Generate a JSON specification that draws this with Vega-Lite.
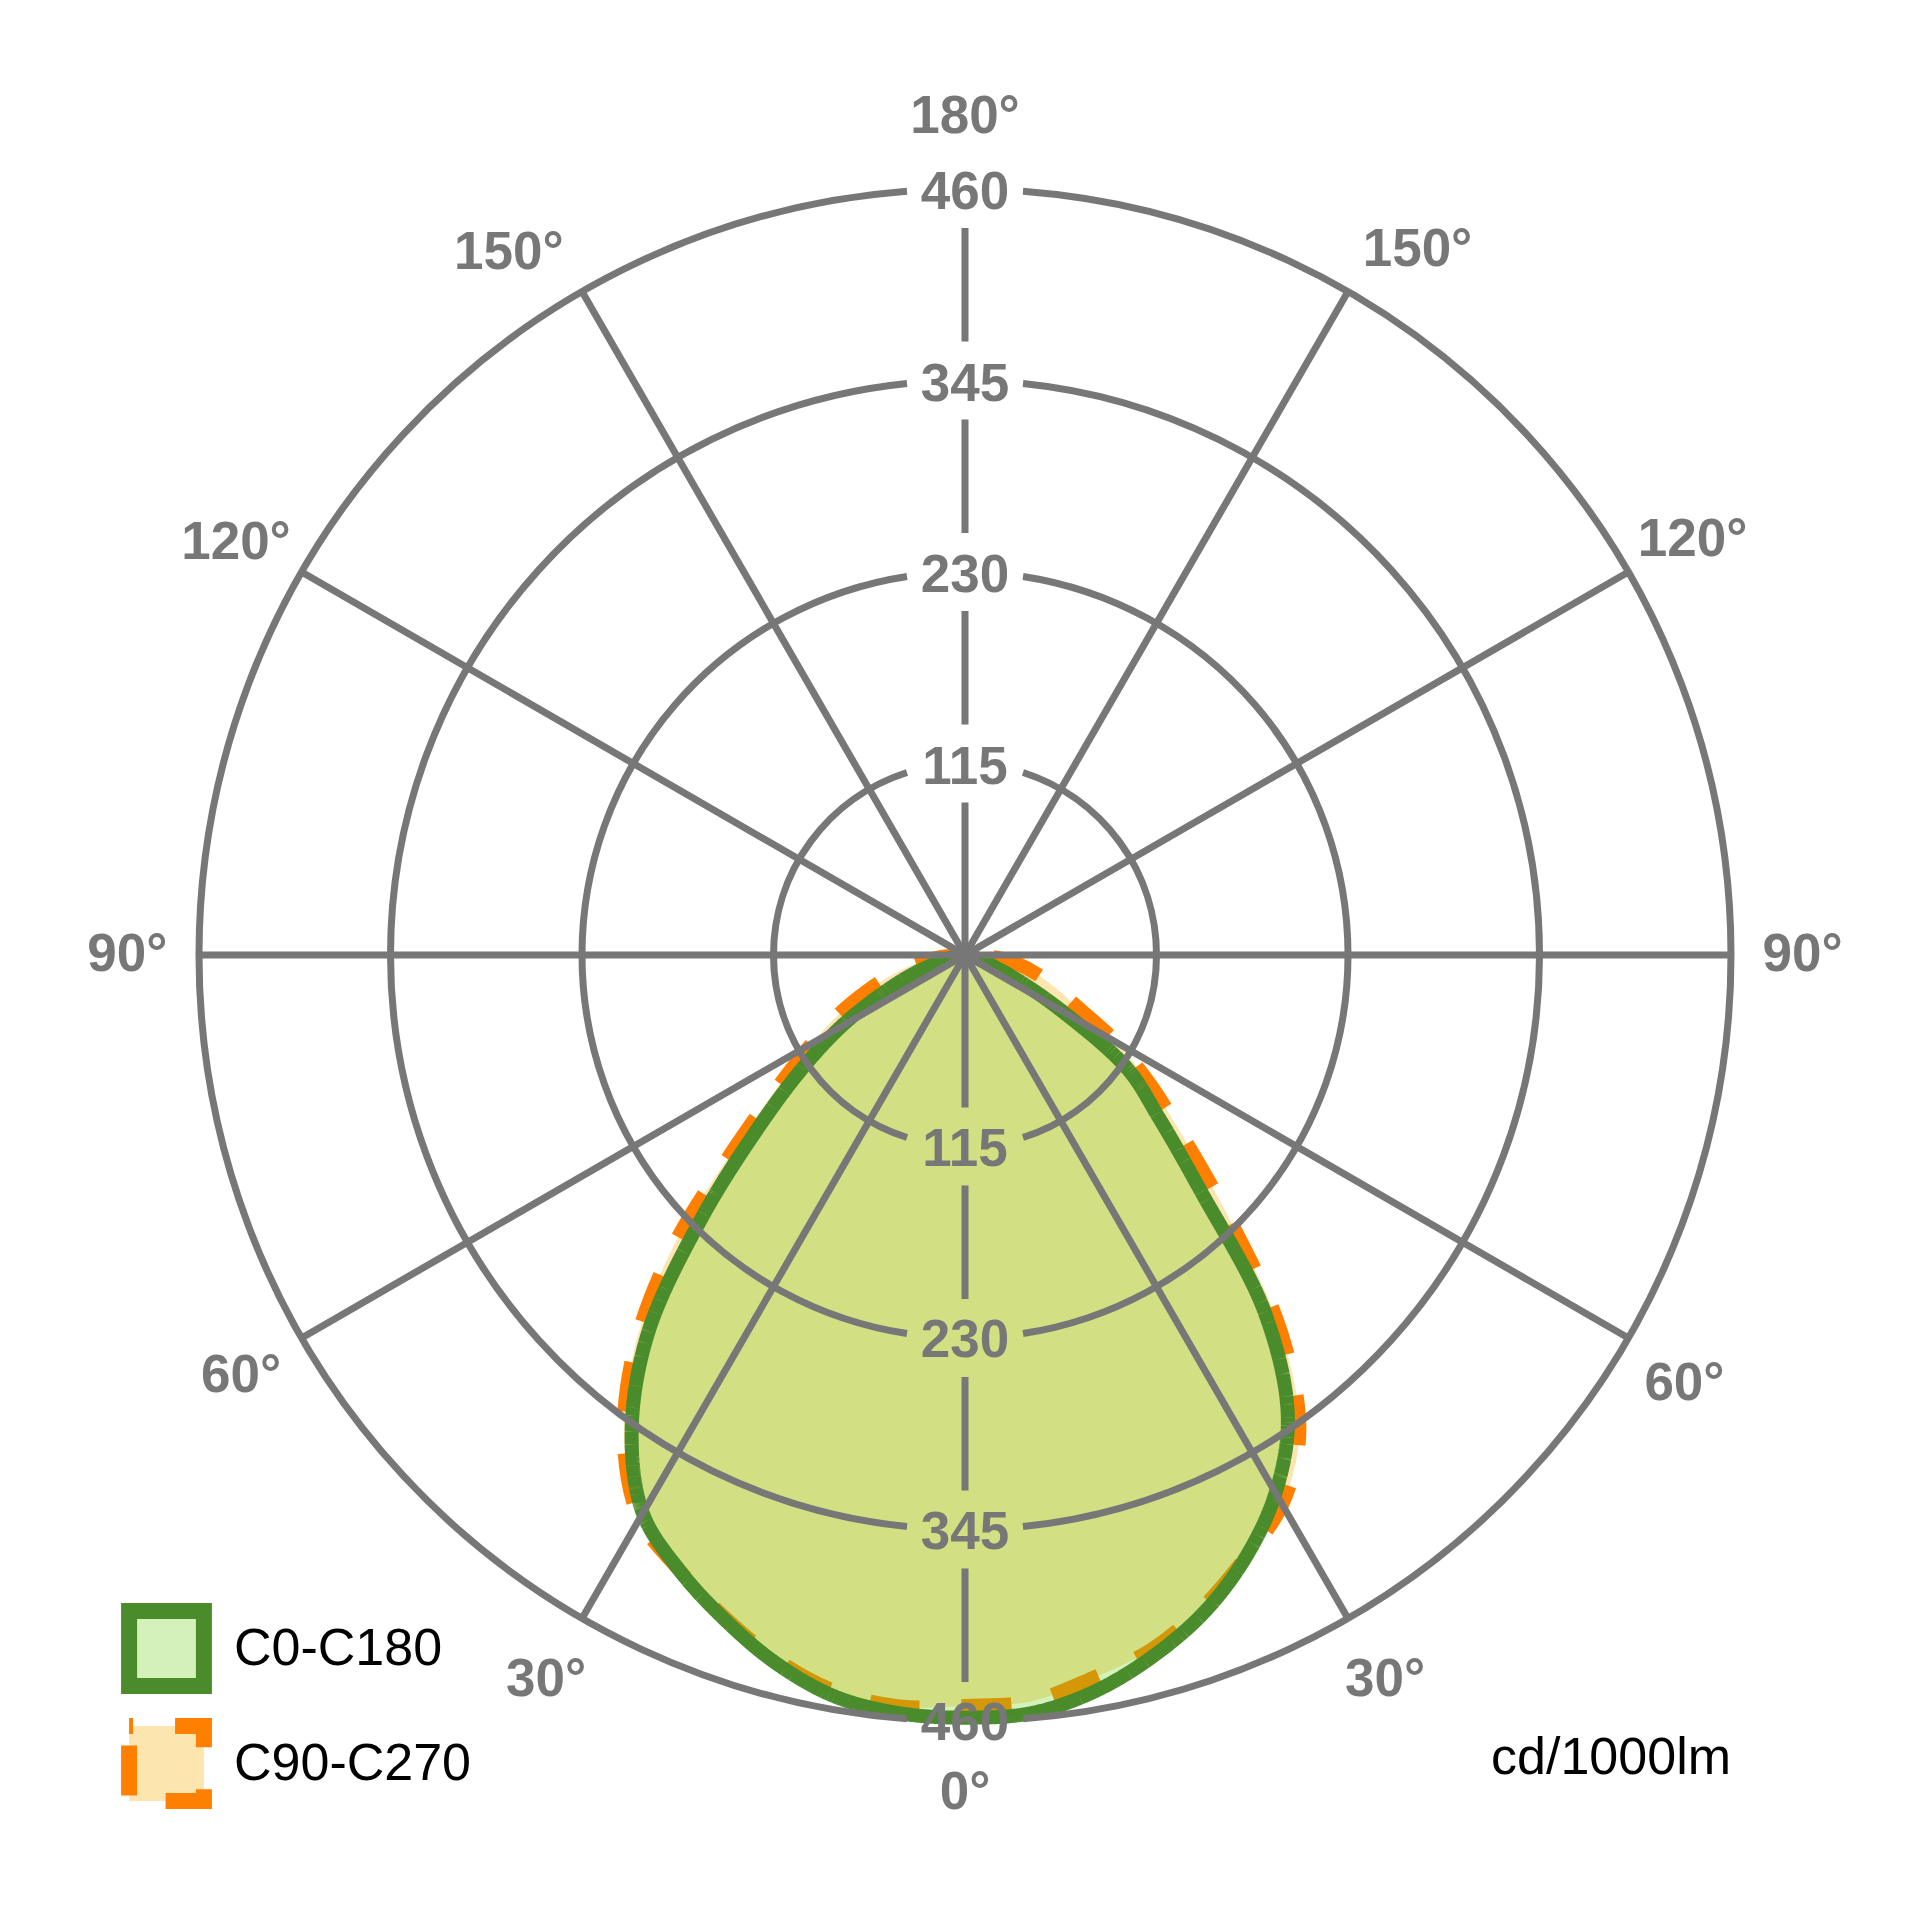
{
  "$schema": "https://vega.github.io/schema/vega-lite/v6.json",
  "width": 1532,
  "height": 1532,
  "autosize": "none",
  "padding": {"left": 199, "top": 189, "right": 188, "bottom": 199},
  "background": "white",
  "config": {
    "view": {"stroke": null},
    "font": "Liberation Sans",
    "legend": {"orient": "none", "legendX": -78, "legendY": 1414, "padding": 0, "symbolType": "square", "symbolSize": 5600, "symbolStrokeWidth": 16, "labelFontSize": 52, "labelFont": "Liberation Sans", "labelColor": "#000000", "labelOffset": 22, "labelLimit": 600, "rowPadding": -32, "symbolOpacity": 1, "symbolDashOffset": 46}
  },
  "title": {"text": "cd/1000lm", "orient": "bottom", "anchor": "end", "frame": "group", "fontSize": 52, "fontWeight": "normal", "font": "Liberation Sans", "color": "#000000", "baseline": "alphabetic", "offset": -59},
  "datasets": {
    "curves": [
      {"series": "C0-C180", "gamma": -90, "cd": 0},
      {"series": "C0-C180", "gamma": -85, "cd": 3},
      {"series": "C0-C180", "gamma": -80, "cd": 7},
      {"series": "C0-C180", "gamma": -75, "cd": 16},
      {"series": "C0-C180", "gamma": -70, "cd": 33},
      {"series": "C0-C180", "gamma": -65, "cd": 55},
      {"series": "C0-C180", "gamma": -60, "cd": 86},
      {"series": "C0-C180", "gamma": -55, "cd": 120},
      {"series": "C0-C180", "gamma": -50, "cd": 163},
      {"series": "C0-C180", "gamma": -45, "cd": 224},
      {"series": "C0-C180", "gamma": -40, "cd": 296},
      {"series": "C0-C180", "gamma": -35, "cd": 349},
      {"series": "C0-C180", "gamma": -30, "cd": 387},
      {"series": "C0-C180", "gamma": -25, "cd": 407},
      {"series": "C0-C180", "gamma": -20, "cd": 424},
      {"series": "C0-C180", "gamma": -15, "cd": 440},
      {"series": "C0-C180", "gamma": -10, "cd": 452},
      {"series": "C0-C180", "gamma": -5, "cd": 457},
      {"series": "C0-C180", "gamma": 0, "cd": 458},
      {"series": "C0-C180", "gamma": 5, "cd": 457},
      {"series": "C0-C180", "gamma": 10, "cd": 449},
      {"series": "C0-C180", "gamma": 15, "cd": 436},
      {"series": "C0-C180", "gamma": 20, "cd": 420},
      {"series": "C0-C180", "gamma": 25, "cd": 399},
      {"series": "C0-C180", "gamma": 30, "cd": 373},
      {"series": "C0-C180", "gamma": 35, "cd": 338},
      {"series": "C0-C180", "gamma": 40, "cd": 280},
      {"series": "C0-C180", "gamma": 45, "cd": 200},
      {"series": "C0-C180", "gamma": 50, "cd": 152},
      {"series": "C0-C180", "gamma": 55, "cd": 119},
      {"series": "C0-C180", "gamma": 60, "cd": 67},
      {"series": "C0-C180", "gamma": 65, "cd": 33},
      {"series": "C0-C180", "gamma": 70, "cd": 14},
      {"series": "C0-C180", "gamma": 75, "cd": 7},
      {"series": "C0-C180", "gamma": 80, "cd": 4},
      {"series": "C0-C180", "gamma": 85, "cd": 2},
      {"series": "C0-C180", "gamma": 90, "cd": 0},
      {"series": "C90-C270", "gamma": -90, "cd": 0},
      {"series": "C90-C270", "gamma": -85, "cd": 15},
      {"series": "C90-C270", "gamma": -80, "cd": 30},
      {"series": "C90-C270", "gamma": -75, "cd": 45},
      {"series": "C90-C270", "gamma": -70, "cd": 62},
      {"series": "C90-C270", "gamma": -65, "cd": 83},
      {"series": "C90-C270", "gamma": -60, "cd": 106},
      {"series": "C90-C270", "gamma": -55, "cd": 136},
      {"series": "C90-C270", "gamma": -50, "cd": 181},
      {"series": "C90-C270", "gamma": -45, "cd": 248},
      {"series": "C90-C270", "gamma": -40, "cd": 309},
      {"series": "C90-C270", "gamma": -35, "cd": 357},
      {"series": "C90-C270", "gamma": -30, "cd": 391},
      {"series": "C90-C270", "gamma": -25, "cd": 407},
      {"series": "C90-C270", "gamma": -20, "cd": 423},
      {"series": "C90-C270", "gamma": -15, "cd": 438},
      {"series": "C90-C270", "gamma": -10, "cd": 449},
      {"series": "C90-C270", "gamma": -5, "cd": 453},
      {"series": "C90-C270", "gamma": 0, "cd": 451},
      {"series": "C90-C270", "gamma": 5, "cd": 450},
      {"series": "C90-C270", "gamma": 10, "cd": 441},
      {"series": "C90-C270", "gamma": 15, "cd": 432},
      {"series": "C90-C270", "gamma": 20, "cd": 417},
      {"series": "C90-C270", "gamma": 25, "cd": 399},
      {"series": "C90-C270", "gamma": 30, "cd": 381},
      {"series": "C90-C270", "gamma": 35, "cd": 350},
      {"series": "C90-C270", "gamma": 40, "cd": 295},
      {"series": "C90-C270", "gamma": 45, "cd": 225},
      {"series": "C90-C270", "gamma": 50, "cd": 172},
      {"series": "C90-C270", "gamma": 55, "cd": 136},
      {"series": "C90-C270", "gamma": 60, "cd": 105},
      {"series": "C90-C270", "gamma": 65, "cd": 75},
      {"series": "C90-C270", "gamma": 70, "cd": 58},
      {"series": "C90-C270", "gamma": 75, "cd": 45},
      {"series": "C90-C270", "gamma": 80, "cd": 33},
      {"series": "C90-C270", "gamma": 85, "cd": 20},
      {"series": "C90-C270", "gamma": 90, "cd": 0}
    ],
    "rings": [{"r": 115}, {"r": 230}, {"r": 345}, {"r": 460}],
    "spokes": [{"pos": 30}, {"pos": 60}, {"pos": 90}, {"pos": 120}, {"pos": 150}],
    "angles": [
      {"pos": 0, "label": "180°"},
      {"pos": 32.7, "label": "150°"},
      {"pos": 60.3, "label": "120°"},
      {"pos": 90, "label": "90°"},
      {"pos": 120.8, "label": "60°"},
      {"pos": 149.9, "label": "30°"},
      {"pos": 180, "label": "0°"},
      {"pos": 210, "label": "30°"},
      {"pos": 239.8, "label": "60°"},
      {"pos": 270, "label": "90°"},
      {"pos": 299.5, "label": "120°"},
      {"pos": 327, "label": "150°"}
    ]
  },
  "layer": [
    {
      "data": {"name": "curves"},
      "transform": [
        {"filter": "datum.series === 'C90-C270'"},
        {"calculate": "datum.cd*sin(datum.gamma*PI/180)", "as": "px"},
        {"calculate": "-datum.cd*cos(datum.gamma*PI/180)", "as": "py"}
      ],
      "mark": {"type": "line", "interpolate": "catmull-rom", "strokeWidth": 14, "strokeCap": "butt"},
      "encoding": {
        "x": {"field": "px", "type": "quantitative", "scale": {"domain": [-460, 460], "nice": false, "zero": false}, "axis": null},
        "y": {"field": "py", "type": "quantitative", "scale": {"domain": [-460, 460], "nice": false, "zero": false}, "axis": null},
        "order": {"field": "gamma", "type": "quantitative"},
        "stroke": {"field": "series", "type": "nominal", "title": null,
          "scale": {"domain": ["C0-C180", "C90-C270"], "range": ["#4a8c2c", "#ff7f00"]}},
        "fill": {"field": "series", "type": "nominal", "title": null,
          "scale": {"domain": ["C0-C180", "C90-C270"], "range": ["rgba(113,207,27,0.3)", "#fde5b0"]}},
        "strokeDash": {"field": "series", "type": "nominal", "title": null,
          "scale": {"domain": ["C0-C180", "C90-C270"], "range": [[1, 0], [50, 42]]}}
      }
    },
    {
      "data": {"name": "curves"},
      "transform": [
        {"filter": "datum.series === 'C0-C180'"},
        {"calculate": "datum.cd*sin(datum.gamma*PI/180)", "as": "px"},
        {"calculate": "-datum.cd*cos(datum.gamma*PI/180)", "as": "py"}
      ],
      "mark": {"type": "line", "interpolate": "catmull-rom", "strokeWidth": 14, "strokeCap": "butt"},
      "encoding": {
        "x": {"field": "px", "type": "quantitative"},
        "y": {"field": "py", "type": "quantitative"},
        "order": {"field": "gamma", "type": "quantitative"},
        "stroke": {"field": "series", "type": "nominal", "title": null},
        "fill": {"field": "series", "type": "nominal", "title": null},
        "strokeDash": {"field": "series", "type": "nominal", "title": null}
      }
    },
    {
      "data": {"name": "rings"},
      "transform": [
        {"calculate": "asin(58/(datum.r*766/460))*180/PI", "as": "gap"},
        {"calculate": "datum.gap", "as": "t1"},
        {"calculate": "180 - datum.gap", "as": "t2"}
      ],
      "mark": {"type": "arc", "filled": false, "color": "#777777", "strokeWidth": 7, "strokeCap": "butt"},
      "encoding": {
        "theta": {"field": "t1", "type": "quantitative", "stack": null, "scale": {"domain": [0, 360], "range": [0, 6.283185307179586]}},
        "theta2": {"field": "t2"},
        "radius": {"field": "r", "type": "quantitative", "scale": {"type": "linear", "domain": [0, 460], "range": [0, 766], "zero": true}},
        "radius2": {"field": "r"}
      }
    },
    {
      "data": {"name": "rings"},
      "transform": [
        {"calculate": "asin(58/(datum.r*766/460))*180/PI", "as": "gap"},
        {"calculate": "180 + datum.gap", "as": "t1"},
        {"calculate": "360 - datum.gap", "as": "t2"}
      ],
      "mark": {"type": "arc", "filled": false, "color": "#777777", "strokeWidth": 7, "strokeCap": "butt"},
      "encoding": {
        "theta": {"field": "t1", "type": "quantitative", "stack": null},
        "theta2": {"field": "t2"},
        "radius": {"field": "r", "type": "quantitative"},
        "radius2": {"field": "r"}
      }
    },
    {
      "data": {"name": "spokes"},
      "transform": [
        {"calculate": "460*sin(datum.pos*PI/180)", "as": "x1"},
        {"calculate": "460*cos(datum.pos*PI/180)", "as": "y1"},
        {"calculate": "-datum.x1", "as": "x2"},
        {"calculate": "-datum.y1", "as": "y2"}
      ],
      "mark": {"type": "rule", "color": "#777777", "strokeWidth": 7},
      "encoding": {
        "x": {"field": "x1", "type": "quantitative"},
        "y": {"field": "y1", "type": "quantitative"},
        "x2": {"field": "x2"},
        "y2": {"field": "y2"}
      }
    },
    {
      "data": {"name": "rings"},
      "transform": [
        {"calculate": "datum.r == 115 ? 0 : datum.r - 115 + 23.4", "as": "lo"},
        {"calculate": "datum.r - 23.4", "as": "hi"},
        {"calculate": "-datum.lo", "as": "nlo"},
        {"calculate": "-datum.hi", "as": "nhi"},
        {"calculate": "-datum.r", "as": "nr"}
      ],
      "layer": [
        {
          "mark": {"type": "rule", "color": "#777777", "strokeWidth": 7},
          "encoding": {"x": {"datum": 0, "type": "quantitative"}, "y": {"field": "lo", "type": "quantitative"}, "y2": {"field": "hi"}}
        },
        {
          "mark": {"type": "rule", "color": "#777777", "strokeWidth": 7},
          "encoding": {"x": {"datum": 0, "type": "quantitative"}, "y": {"field": "nlo", "type": "quantitative"}, "y2": {"field": "nhi"}}
        },
        {
          "mark": {"type": "text", "font": "Liberation Sans", "fontWeight": "bold", "fontSize": 53, "color": "#777777", "align": "center", "baseline": "middle", "dy": 4},
          "encoding": {"x": {"datum": 0, "type": "quantitative"}, "y": {"field": "r", "type": "quantitative"}, "text": {"field": "r", "type": "nominal"}}
        },
        {
          "mark": {"type": "text", "font": "Liberation Sans", "fontWeight": "bold", "fontSize": 53, "color": "#777777", "align": "center", "baseline": "middle", "dy": 3},
          "encoding": {"x": {"datum": 0, "type": "quantitative"}, "y": {"field": "nr", "type": "quantitative"}, "text": {"field": "r", "type": "nominal"}}
        }
      ]
    },
    {
      "data": {"name": "angles"},
      "mark": {"type": "text", "font": "Liberation Sans", "fontWeight": "bold", "fontSize": 53, "color": "#777777", "align": "center", "baseline": "middle"},
      "encoding": {
        "theta": {"field": "pos", "type": "quantitative", "stack": null},
        "radius": {"datum": 503, "type": "quantitative"},
        "text": {"field": "label", "type": "nominal"}
      }
    }
  ]
}
